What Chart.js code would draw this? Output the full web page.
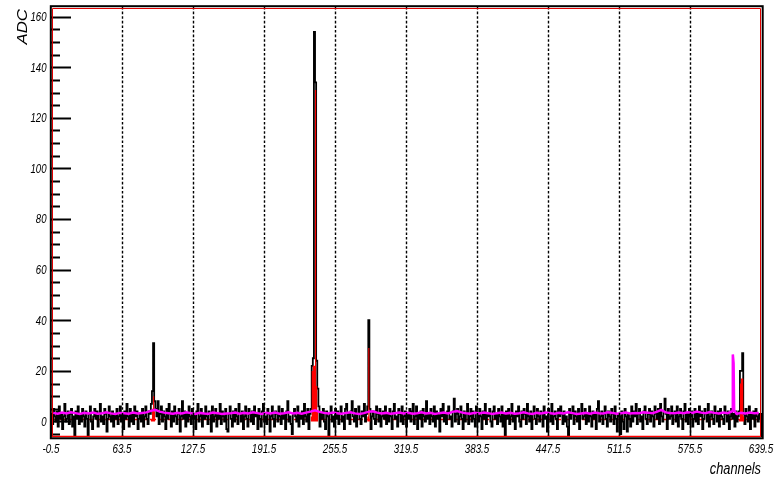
<!DOCTYPE html>
<html>
<head>
<meta charset="utf-8">
<script src="https://cdn.jsdelivr.net/npm/chart.js@4/dist/chart.umd.min.js"></script>
<style>
    body { margin: 0; background: #fff; }
    canvas { display: block; }
</style>
</head>
<body>
<canvas id="adcChart" width="777" height="478"></canvas>
<script>
// ADC per channel (black histogram), 640 channels starting at channel 0
const adcCounts = [
    3, -1, 5, 2, 0, 4, -2, 6, 1, 3, -3, 2, 7, 0, 1, 4, -1, 3, 5, -2,
    2, -6, 4, 1, 6, -1, 3, 0, 5, 2, -2, 4, 1, -6, 3, 6, 0, -3, 2, 5,
    1, 4, -2, 3, 7, 0, 2, -1, 5, 3, -4, 1, 6, 2, 0, 4, -2, 3, 1, 5,
    -1, 2, 6, 0, 3, -3, 4, 1, 7, 2, -2, 5, 0, 3, -1, 6, 2, 4, -3, 1,
    3, 0, 5, -2, 2, 6, 1, -1, 4, 3, 7, 12, 31, 8, 5, 2, 8, -1, 3, 6,
    0, 4, 2, -3, 5, 1, 7, 3, -2, 4, 0, 6, 2, -1, 3, 5, -4, 2, 8, 1,
    4, -2, 3, 0, 6, 2, -1, 5, 1, 3, -3, 4, 7, 0, 2, 5, -2, 3, 1, 6,
    2, -1, 4, 3, -4, 6, 0, 2, 5, -2, 3, 1, 7, -1, 4, 2, 0, 5, -3, -4,
    3, 6, 1, -2, 4, 0, 5, 2, -1, 7, 3, 0, 4, -3, 2, 6, 1, -2, 5, 3,
    0, 4, -1, 6, 2, 3, -3, 5, 1, -2, 4, 7, 0, 2, -1, 5, 3, -4, 2, 6,
    1, -2, 4, 3, 0, 6, 2, -1, 5, 1, 3, -3, 4, 8, 0, 2, -1, -5, 3, 5,
    2, 0, 6, -2, 3, 1, 4, -1, 7, 2, 0, 5, -3, 3, 5, 22, 25, 154, 134, 24,
    13, 6, -2, 3, 1, 5, 0, -3, 4, 2, -6, 3, 6, 0, 2, -2, 5, 1, 4, -1,
    3, 6, 0, 2, -3, 5, 7, 1, 3, -1, 4, 8, 2, 0, 5, -2, 3, 6, 1, -1,
    4, 2, 7, 0, 3, 6, 40, 5, -3, 2, 4, 1, -1, 6, 3, 0, 5, -2, 2, 4,
    1, 6, -1, 3, 0, 5, 2, -3, 4, 7, 1, 2, -2, 5, 3, 0, 6, -1, 2, 4,
    -2, 3, 1, 5, 0, 4, 7, -1, 2, 6, -3, 3, 1, 4, -2, 5, 2, 0, 8, 1,
    3, -1, 5, 2, 0, 6, -2, 4, 1, 3, -4, 5, 2, 7, 0, 3, -1, 4, 6, 1,
    2, -2, 4, 9, 0, 3, 5, -1, 2, 6, 1, -3, 4, 0, 3, 7, -1, 2, 5, 0,
    4, 1, -2, 6, 3, 0, 5, 2, -3, 4, 1, 7, -1, 3, 2, 5, 0, -2, 4, 6,
    1, 3, -1, 5, 2, 0, 6, -2, 3, -6, 4, 1, 5, -1, 2, 7, 0, 3, -3, 4,
    2, 6, 0, -2, 4, 1, 5, 3, -1, 7, 2, 0, 4, -3, 3, 6, 1, -1, 5, 2,
    0, 4, 3, -2, 6, 1, 2, -4, 5, 3, 0, 7, -1, 2, 4, 1, -3, 5, 2, 6,
    3, -1, 4, 0, 2, -2, -6, 5, 1, 3, 6, -1, 4, 2, 0, 5, -3, 3, 7, 1,
    2, 5, -1, 3, 0, 6, 2, -2, 4, 1, 3, -3, 5, 8, 0, 2, 4, -1, 3, 6,
    1, -2, 4, 2, 0, 5, 3, -1, 6, 1, -4, 3, 2, -5, 4, 0, -3, 5, 2, -4,
    3, 1, -2, 6, 0, 4, 2, 7, -1, 3, 5, 0, 2, -3, 4, 6, 1, -1, 3, 5,
    0, 4, 2, -2, 6, 3, 1, 5, -1, 7, 2, 0, 4, 9, 3, -3, 5, 1, 2, 6,
    -1, 3, 4, 0, 6, -2, 2, 5, 1, -3, 4, 7, 0, 3, -1, 5, 2, 4, -2, 1,
    5, 0, 3, -1, 6, 2, 4, -3, 1, 5, 3, 0, 7, -2, 2, 4, 1, -1, 6, 3,
    0, 4, -2, 5, 2, 1, -1, 6, 3, 0, 4, -3, 2, 5, 1, 3, -2, 4, 0, 2,
    4, 20, 20, 27, 3, -1, 5, 2, 0, 6, -3, 3, 1, 4, -2, 5, 2, 0, 3, 1
];

// signal part (red filled histogram)
const peakChannels = [90, 91, 92, 93, 234, 235, 236, 237, 238, 239, 240, 285, 286, 287, 620, 621, 622, 623, 624];
const peakCounts   = [1, 5, 10, 4, 2, 20, 22, 22, 131, 14, 4, 2, 29, 1, 1, 15, 17, 17, 2];

// baseline (magenta), one value per group of 4 channels
const baselineStep = 4;
const baselineValues = [
    3.4, 3.1, 3.5, 3.2, 3.6, 3.3, 3.0, 3.4, 3.2, 3.5, 3.1, 3.3, 3.6, 3.2, 3.0, 3.4, 3.3, 3.1, 3.5, 3.2,
    3.4, 3.6, 4.2, 4.6, 3.9, 3.5, 3.3, 3.1, 3.4, 3.2, 3.6, 3.3, 3.0, 3.4, 3.2, 3.1, 3.5, 3.3, 3.0, 3.2,
    3.3, 3.5, 3.1, 3.4, 3.2, 3.6, 3.3, 3.0, 3.4, 3.2, 3.5, 3.1, 3.3, 3.6, 3.2, 3.4, 3.1, 3.5, 3.9, 4.4,
    3.8, 3.4, 3.2, 3.5, 3.3, 3.1, 3.4, 3.6, 3.2, 3.0, 3.3, 3.8, 4.0, 3.5, 3.2, 3.4, 3.1, 3.3, 3.5, 3.2,
    3.4, 3.1, 3.3, 3.6, 3.2, 3.4, 3.0, 3.3, 3.5, 3.2, 3.8, 4.1, 3.6, 3.3, 3.1, 3.4, 3.2, 3.5, 3.3, 3.0,
    3.3, 3.5, 3.2, 3.4, 3.1, 3.3, 3.6, 3.2, 3.0, 3.4, 3.2, 3.5, 3.3, 3.1, 3.4, 3.2, 3.6, 3.3, 3.0, 3.2,
    3.4, 3.1, 3.5, 3.3, 3.2, 3.6, 3.4, 3.1, 3.3, 3.5, 3.2, 3.4, 3.3, 3.6, 3.5, 3.3, 3.8, 4.6, 3.6, 3.4,
    3.3, 3.5, 3.3, 3.6, 3.4, 3.9, 3.5, 3.3, 3.7, 3.4, 3.2, 3.5, 3.3, 4.0, 3.0, 3.4, 3.2, 3.5, 3.3, 3.4
];
const baselinePeakChannels = [614.1, 614.8, 615.3];
const baselinePeakValues   = [26.5, 23, 4.5];

const zeroLevel = 0.8;

// axes
const xMin = -0.5, xMax = 639.5;
const yMin = -6.13, yMax = 163.8;
const xTickValues = [-0.5, 63.5, 127.5, 191.5, 255.5, 319.5, 383.5, 447.5, 511.5, 575.5, 639.5];
const xTickLabels = ['-0.5', '63.5', '127.5', '191.5', '255.5', '319.5', '383.5', '447.5', '511.5', '575.5', '639.5'];
const gridChannels = [63.5, 127.5, 191.5, 255.5, 319.5, 383.5, 447.5, 511.5, 575.5];
const yTickValues = [0, 20, 40, 60, 80, 100, 120, 140, 160];
const yTickLabels = ['0', '20', '40', '60', '80', '100', '120', '140', '160'];
const yMinorStep = 5;
const xTitle = 'channels';
const yTitle = 'ADC';

// histogram edges: value of bin i holds from i-0.5 to i+0.5
function histogramPoints(values) {
    const pts = values.map((v, i) => ({ x: i - 0.5, y: v }));
    pts.push({ x: values.length - 0.5, y: values[values.length - 1] });
    return pts;
}

function peakDatasets() {
    const groups = [];
    let cur = null;
    peakChannels.forEach((ch, k) => {
        if (!cur || ch !== cur.last + 1) {
            cur = { first: ch, last: ch, vals: [] };
            groups.push(cur);
        }
        cur.last = ch;
        cur.vals.push(peakCounts[k]);
    });
    return groups.map(g => {
        const pts = [{ x: g.first - 0.5, y: 0 }];
        g.vals.forEach((v, j) => pts.push({ x: g.first + j - 0.5, y: v }));
        pts.push({ x: g.last + 0.5, y: 0 });
        return {
            data: pts,
            stepped: true,
            borderColor: 'rgba(255,0,0,0)',
            borderWidth: 0,
            backgroundColor: '#ff0000',
            fill: 'origin',
            order: 1
        };
    });
}

function baselinePoints() {
    const pts = baselineValues.map((v, k) => ({ x: k * baselineStep + 1.5, y: v }));
    baselinePeakChannels.forEach((ch, k) => pts.push({ x: ch, y: baselinePeakValues[k] }));
    return pts.sort((a, b) => a.x - b.x);
}

function drawText(ctx, text, x, y, align, squeeze) {
    ctx.save();
    ctx.translate(x, y);
    ctx.scale(squeeze, 1);
    ctx.textAlign = align;
    ctx.fillText(text, 0, 0);
    ctx.restore();
}

const frameAxes = {
    id: 'frameAxes',
    beforeDatasetsDraw(chart) {
        const { ctx, chartArea: a, scales: { x } } = chart;
        ctx.save();
        ctx.strokeStyle = '#000';
        ctx.lineWidth = 1.4;
        ctx.setLineDash([2.6, 2]);
        gridChannels.forEach(v => {
            const px = Math.round(x.getPixelForValue(v)) + 0.5;
            ctx.beginPath();
            ctx.moveTo(px, a.top);
            ctx.lineTo(px, a.bottom);
            ctx.stroke();
        });
        ctx.restore();
    },
    afterDraw(chart) {
        const { ctx, chartArea: a, scales: { x, y } } = chart;
        ctx.save();

        // y ticks, inside the frame
        ctx.strokeStyle = '#000';
        ctx.lineWidth = 2;
        for (let v = -yMinorStep; v <= yMax; v += yMinorStep) {
            const py = Math.round(y.getPixelForValue(v)) + 0.5;
            const len = v % 20 === 0 ? 20 : 9;
            ctx.beginPath();
            ctx.moveTo(a.left, py);
            ctx.lineTo(a.left + len, py);
            ctx.stroke();
        }
        // x ticks
        ctx.lineWidth = 1.5;
        xTickValues.forEach(v => {
            const px = Math.round(x.getPixelForValue(v)) + 0.5;
            ctx.beginPath();
            ctx.moveTo(px, a.bottom);
            ctx.lineTo(px, a.bottom - 24);
            ctx.stroke();
        });

        // frame: thin red inner lines, black outer box
        ctx.strokeStyle = '#e00000';
        ctx.lineWidth = 1;
        ctx.beginPath();
        ctx.moveTo(a.left + 1.5, a.top + 1.5);
        ctx.lineTo(a.right - 0.5, a.top + 1.5);
        ctx.moveTo(a.left + 1.5, a.top + 1.5);
        ctx.lineTo(a.left + 1.5, a.bottom);
        ctx.moveTo(a.right - 0.5, a.top + 1.5);
        ctx.lineTo(a.right - 0.5, a.bottom);
        ctx.stroke();
        ctx.strokeStyle = '#ff0000';
        ctx.lineWidth = 1.5;
        ctx.beginPath();
        ctx.moveTo(a.left, a.bottom - 0.5);
        ctx.lineTo(a.right, a.bottom - 0.5);
        ctx.stroke();
        ctx.strokeStyle = '#000';
        ctx.lineWidth = 2;
        ctx.strokeRect(a.left - 0.2, a.top - 0.8, a.right - a.left + 1.9, a.bottom - a.top + 2.1);

        // tick labels
        ctx.fillStyle = '#000';
        ctx.font = "italic 12px 'Liberation Sans', Arial, sans-serif";
        ctx.textBaseline = 'middle';
        yTickValues.forEach((v, i) => {
            drawText(ctx, yTickLabels[i], 46.5, y.getPixelForValue(v) + 1, 'right', 0.8);
        });
        ctx.textBaseline = 'alphabetic';
        xTickValues.forEach((v, i) => {
            drawText(ctx, xTickLabels[i], x.getPixelForValue(v), 452.5, 'center', 0.82);
        });

        // axis titles
        ctx.font = "italic 16px 'Liberation Sans', Arial, sans-serif";
        drawText(ctx, xTitle, a.right, 474, 'right', 0.8);
        ctx.save();
        ctx.translate(27, 9);
        ctx.rotate(-Math.PI / 2);
        ctx.font = "italic 14px 'Liberation Sans', Arial, sans-serif";
        drawText(ctx, yTitle, 0, 0, 'right', 1.2);
        ctx.restore();

        ctx.restore();
    }
};

new Chart(document.getElementById('adcChart').getContext('2d'), {
    type: 'line',
    data: {
        datasets: [
            {
                data: baselinePoints(),
                borderColor: '#ff00ff',
                borderWidth: 2.5,
                fill: false,
                order: 0
            },
            ...peakDatasets(),
            {
                data: histogramPoints(adcCounts),
                stepped: true,
                borderColor: '#000',
                borderWidth: 1.8,
                fill: false,
                order: 2
            },
            {
                data: [{ x: xMin, y: zeroLevel }, { x: xMax, y: zeroLevel }],
                borderColor: '#ff0000',
                borderWidth: 1.5,
                borderDash: [6, 3],
                fill: false,
                order: 3
            }
        ]
    },
    options: {
        responsive: false,
        animation: false,
        layout: { padding: { left: 51, right: 16, top: 7, bottom: 41 } },
        elements: { point: { radius: 0 }, line: { tension: 0 } },
        plugins: { legend: { display: false }, tooltip: { enabled: false } },
        scales: {
            x: { type: 'linear', min: xMin, max: xMax, display: false },
            y: { type: 'linear', min: yMin, max: yMax, display: false }
        }
    },
    plugins: [frameAxes]
});
</script>
</body>
</html>
